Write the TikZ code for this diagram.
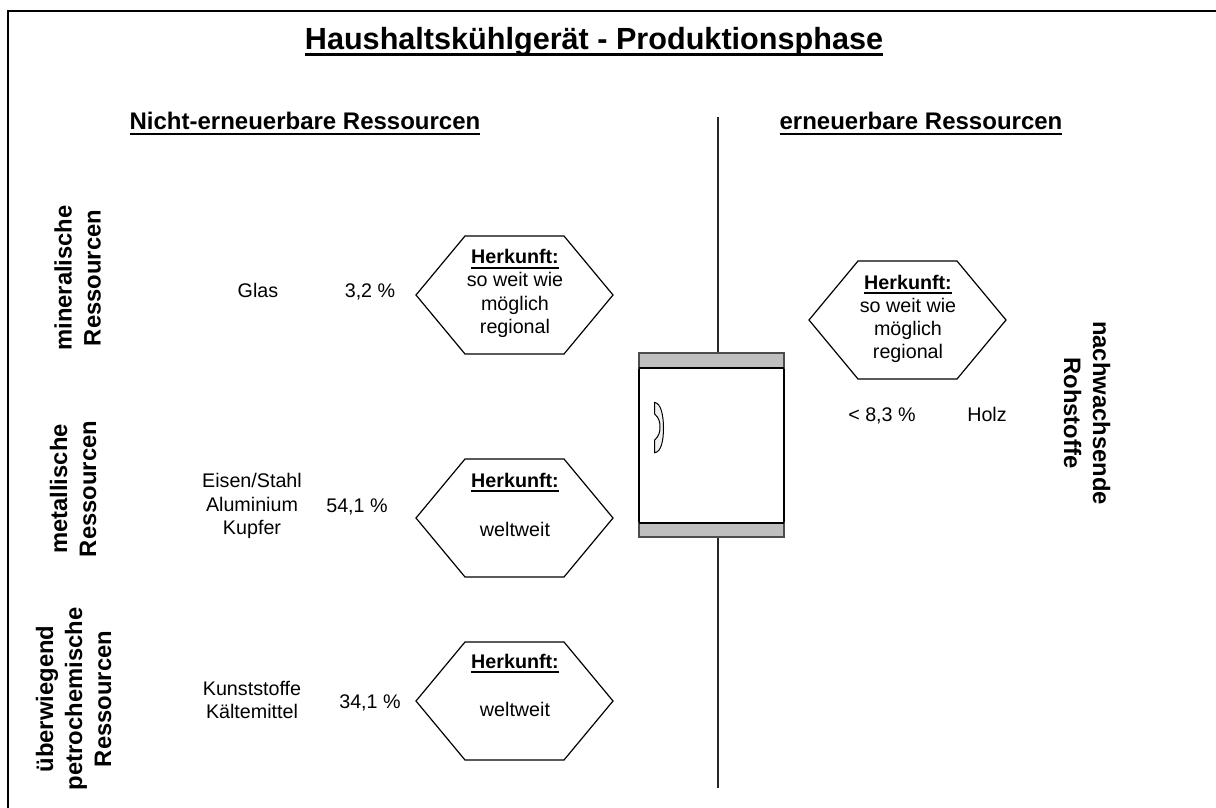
\documentclass[tikz,border=0pt]{standalone}
\usepackage{fontspec}
\setmainfont{Liberation Sans}
\newcommand{\ulbox}[3]{\setbox0\hbox{#1}\rlap{\rule[-#2]{\wd0}{#3}}\box0}
\newcommand{\hk}{\ulbox{\bfseries Herkunft:}{4.8pt}{1.8pt}}
\tikzset{
  x=1pt,y=-1pt,
  frameline/.style={line width=2pt,black},
  axisline/.style={line width=1.7pt,black!85},
  hexline/.style={line width=1.2pt,black},
  bandbox/.style={fill=black!25,draw=black!70,line width=1.3pt},
  bandline/.style={line width=1.8pt,black},
  body/.style={inner sep=0pt,align=center,font=\fontsize{19.7}{23.2}\selectfont},
  vert/.style={inner sep=0pt,align=center,rotate=90,font=\fontsize{23.8}{29}\selectfont\bfseries},
  vertr/.style={inner sep=0pt,align=center,rotate=-90,font=\fontsize{23.8}{29}\selectfont\bfseries},
  head/.style={inner sep=0pt,anchor=base,font=\fontsize{24}{29}\selectfont\bfseries},
  titlefont/.style={inner sep=0pt,anchor=base,font=\fontsize{30.6}{38}\selectfont\bfseries},
}
\newcommand{\hexa}[3]{%
  \coordinate (#3L) at (#1-99,#2);\coordinate (#3TL) at (#1-50,#2-59);\coordinate (#3TR) at (#1+49,#2-59);
  \coordinate (#3R) at (#1+98,#2);\coordinate (#3BR) at (#1+49,#2+59);\coordinate (#3BL) at (#1-50,#2+59);
  \draw[hexline] (#3L)--(#3TL)--(#3TR)--(#3R)--(#3BR)--(#3BL)--cycle;}
\begin{document}
\begin{tikzpicture}
\useasboundingbox (0,0) rectangle (1216,808);
\coordinate (fa) at (8,808);\coordinate (fb) at (8,11);\coordinate (fc) at (1216,11);
\draw[frameline] (fa)--(fb)--(fc);
\node[titlefont] (title) at (594,50) {\ulbox{Haushaltskühlgerät - Produktionsphase}{6.5pt}{3.2pt}};
\node[head] (hl) at (305,129.5) {\ulbox{Nicht-erneuerbare Ressourcen}{5.8pt}{2.5pt}};
\node[head] (hr) at (921,129.5) {\ulbox{erneuerbare Ressourcen}{5.8pt}{2.5pt}};
% axis and refrigerator
\coordinate (at) at (718,117);\coordinate (ab) at (718,788);
\draw[axisline] (at)--(ab);
\coordinate (f1) at (639,353);\coordinate (f2) at (784,537);
\draw[fill=white,draw=black,line width=1.3pt] (f1) rectangle (f2);
\coordinate (b1) at (639,368);\coordinate (b2) at (784,523);
\draw[bandbox] (f1) rectangle (b1 -| f2);
\draw[bandbox] (b2 -| f1) rectangle (f2);
\draw[bandline] (b1)--(b1 -| f2);
\draw[bandline] (b2 -| f1)--(b2);
\draw[line width=1pt,fill=black!6] (654.7,402.5) .. controls (661,403) and (663.5,416) .. (663.5,428) .. controls (663.5,441) and (661,452) .. (654.7,452.7) -- (654.7,440) .. controls (659,436) and (660,432) .. (660,427) .. controls (660,422) and (659,418) .. (654.7,414) -- cycle;
% hexagons
\hexa{515}{295}{ha}
\hexa{908}{320}{hb}
\hexa{515}{518}{hc}
\hexa{515}{701}{hd}
\node[body] (ta) at (515,293.5) {\hk\\so weit wie\\möglich\\regional};
\node[body] (tb) at (908,319) {\hk\\so weit wie\\möglich\\regional};
\node[body,anchor=base] (tc) at (515,487) {\hk};
\node[body,anchor=base] (tc2) at (515,536) {weltweit};
\node[body,anchor=base] (td) at (515,668) {\hk};
\node[body,anchor=base] (td2) at (515,716) {weltweit};
% labels
\node[body,anchor=base] (la) at (258,297) {Glas};
\node[body,anchor=base] (pa) at (370,297) {3,2 \%};
\node[body] (lb) at (252,506) {Eisen/Stahl\\Aluminium\\Kupfer};
\node[body,anchor=base] (pb) at (357,512) {54,1 \%};
\node[body] (lc) at (252,700) {Kunststoffe\\Kältemittel};
\node[body,anchor=base] (pc) at (370,708) {34,1 \%};
\node[body,anchor=base] (pd) at (882,421) {< 8,3 \%};
\node[body,anchor=base] (ld) at (987,421) {Holz};
% rotated
\node[vert] (va) at (77.5,278) {mineralische\\Ressourcen};
\node[vert] (vb) at (73,489) {metallische\\Ressourcen};
\node[vert] (vc) at (73.5,699) {überwiegend\\petrochemische\\Ressourcen};
\node[vertr] (vd) at (1087,413) {nachwachsende\\Rohstoffe};
\end{tikzpicture}
\end{document}
